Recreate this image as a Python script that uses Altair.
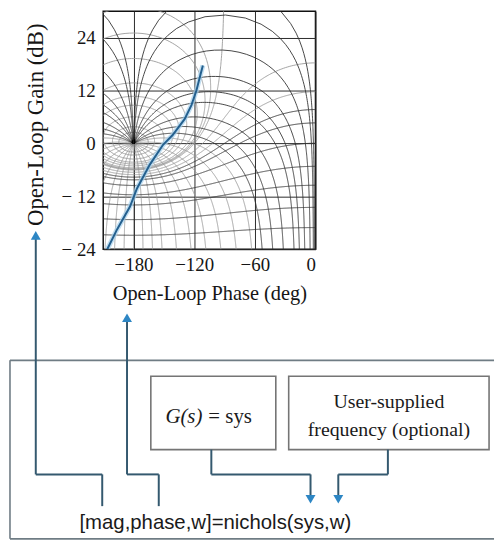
import numpy as np
import pandas as pd
import altair as alt

# ---------------- values ----------------
# open-loop response (Nichols locus)
curve_phase = [-206.0, -196.3, -183.5, -176.6, -163.9, -150.8, -141.3, -129.5, -122.7, -117.8, -113.8, -111.4]
curve_gain = [-24.0, -19.5, -14.3, -10.2, -4.8, -0.3, 1.9, 5.5, 8.7, 12.0, 15.6, 17.7]

# Nichols grid levels (closed-loop magnitude in dB, closed-loop phase in deg)
closed_loop_gain_db = [12, 9, 6, 4, 3, 2, 1, 0.5, 0.25, 0, -1, -2, -3, -4, -6, -9, -12, -16, -20]
closed_loop_phase_deg = [-1, -2, -5, -10, -15, -20, -30, -40, -50, -60, -75, -90, -105, -120,
                         -135, -150, -160, -170, -180, -190, -200, -210, -225, -240, -255,
                         -270, -285, -300, -310, -320, -330, -340, -345, -350, -355, -358, -359]

# rectangular grid / tick values
phase_grid = [-180, -150, -120, -90, -60, -30, 0]
gain_grid = [-24, -18, -12, -6, 0, 6, 12, 18, 24]

x_title = "Open-Loop Phase (deg)"
y_title = "Open-Loop Gain (dB)"
label_g = "G(s)"
label_sys = "= sys"
label_freq = ["User-supplied", "frequency (optional)"]
command = "[mag,phase,w]=nichols(sys,w)"

SERIF = "Liberation Serif"
SANS = "Liberation Sans"

# ---------------- Nichols grid contours ----------------
def to_nichols(L):
    ph = np.degrees(np.angle(L))
    ph = np.where(ph > 0, ph - 360.0, ph)
    with np.errstate(divide="ignore"):
        g = 20 * np.log10(np.abs(L))
    return ph, g

rows = []
seg_counter = [0]

def add_path(ph, g, kind):
    cur = []
    prev = None
    def flush():
        if len(cur) > 1:
            seg_counter[0] += 1
            for i, (p, v) in enumerate(cur):
                rows.append({"phase": round(p, 2), "gain": round(v, 2), "seg": seg_counter[0], "i": i, "kind": kind})
        cur.clear()
    for p, v in zip(ph, g):
        ok = np.isfinite(p) and np.isfinite(v) and (-235 < p < 15) and (-35 < v < 40)
        if not ok:
            flush()
            prev = None
            continue
        if prev is not None and abs(p - prev) > 90:
            flush()
        cur.append((float(p), float(v)))
        prev = p
    flush()

theta = np.linspace(-np.pi, np.pi, 1441)
for mdb in closed_loop_gain_db:
    M = 10 ** (mdb / 20.0)
    T = M * np.exp(1j * theta)
    with np.errstate(divide="ignore", invalid="ignore"):
        L = T / (1 - T)
    ph, g = to_nichols(L)
    add_path(ph, g, "dark" if mdb <= -3 else "light")

mag = np.logspace(-2.5, 3, 1000)
for pdeg in closed_loop_phase_deg:
    T = mag * np.exp(1j * np.radians(pdeg))
    with np.errstate(divide="ignore", invalid="ignore"):
        L = T / (1 - T)
    ph, g = to_nichols(L)
    add_path(ph, g, "dark" if (pdeg >= -50 or pdeg <= -310) else "light")

grid_df = pd.DataFrame(rows)
curve_df = pd.DataFrame({"phase": curve_phase, "gain": curve_gain, "i": range(len(curve_phase))})

# ---------------- top: Nichols chart ----------------
xs = alt.Scale(domain=[-210, 0], nice=False, zero=False)
ys = alt.Scale(domain=[-24, 30], nice=False, zero=False)

minus_x = "datum.value % 60 == 0 ? (datum.value < 0 ? '\u2212' + abs(datum.value) + '\u2002' : '' + datum.value) : ''"
minus_y = "datum.value % 12 == 0 ? (datum.value < 0 ? '\u2212 ' + abs(datum.value) : '' + datum.value) : ''"

x_axis = alt.Axis(values=phase_grid, grid=True, gridColor="#2a2a2a", gridWidth=1,
                  ticks=False, domain=False, labelExpr=minus_x, labelOverlap=False,
                  labelFont=SERIF, labelFontSize=19, labelColor="#151515", labelPadding=6,
                  title=x_title, titleFont=SERIF, titleFontSize=20.5, titleFontWeight="normal",
                  titleColor="#151515", titlePadding=10)
y_axis = alt.Axis(values=gain_grid, grid=True, gridColor="#2a2a2a", gridWidth=1,
                  ticks=False, domain=False, labelExpr=minus_y, labelOverlap=False,
                  labelFont=SERIF, labelFontSize=19, labelColor="#151515", labelPadding=8,
                  title=y_title, titleFont=SERIF, titleFontSize=23, titleFontWeight="normal",
                  titleColor="#151515", titlePadding=14, titleY=114)

base = alt.Chart(grid_df)
light_lines = base.transform_filter(alt.datum.kind == "light").mark_line(
    color="#9a9a9a", strokeWidth=0.9, clip=True).encode(
    x=alt.X("phase:Q", scale=xs, axis=x_axis),
    y=alt.Y("gain:Q", scale=ys, axis=y_axis),
    detail="seg:N", order="i:Q")
dark_lines = base.transform_filter(alt.datum.kind == "dark").mark_line(
    color="#333333", strokeWidth=0.9, clip=True).encode(
    x=alt.X("phase:Q", scale=xs), y=alt.Y("gain:Q", scale=ys),
    detail="seg:N", order="i:Q")
halo = alt.Chart(curve_df).mark_line(color="#a8d2ec", strokeWidth=5, opacity=0.7, clip=True).encode(
    x=alt.X("phase:Q", scale=xs), y=alt.Y("gain:Q", scale=ys), order="i:Q")
locus = alt.Chart(curve_df).mark_line(color="#24608f", strokeWidth=2, clip=True).encode(
    x=alt.X("phase:Q", scale=xs), y=alt.Y("gain:Q", scale=ys), order="i:Q")

top = alt.layer(light_lines, dark_lines, halo, locus).properties(
    width=214, height=240,
    view=alt.ViewBackground(stroke="#111111", strokeWidth=1.5))

# ---------------- bottom: function diagram (layout in figure pixels) ----------------
bxs = alt.Scale(domain=[101, 315], nice=False, zero=False)
bys = alt.Scale(domain=[248, 548], nice=False, zero=False, reverse=True)

# outer frame (runs off the right edge, so only three sides are drawn)
frame = pd.DataFrame([
    {"x": 7, "y": 360, "x2": 495, "y2": 360},
    {"x": 7, "y": 360, "x2": 7, "y2": 540},
    {"x": 7, "y": 540, "x2": 495, "y2": 540},
])
boxes = pd.DataFrame([
    {"x": 149, "x2": 275, "y": 376, "y2": 450},
    {"x": 288, "x2": 490, "y": 376, "y2": 450},
])
wires = pd.DataFrame([
    {"x": 100, "y": 507, "x2": 100, "y2": 475},
    {"x": 100, "y": 475, "x2": 33, "y2": 475},
    {"x": 33, "y": 475, "x2": 33, "y2": 236},
    {"x": 157, "y": 507, "x2": 157, "y2": 475},
    {"x": 157, "y": 475, "x2": 125, "y2": 475},
    {"x": 125, "y": 475, "x2": 125, "y2": 318},
    {"x": 210, "y": 450, "x2": 210, "y2": 475},
    {"x": 210, "y": 475, "x2": 310, "y2": 475},
    {"x": 310, "y": 475, "x2": 310, "y2": 497},
    {"x": 388, "y": 450, "x2": 388, "y2": 475},
    {"x": 388, "y": 475, "x2": 338, "y2": 475},
    {"x": 338, "y": 475, "x2": 338, "y2": 497},
])
heads = pd.DataFrame([
    {"x": 33, "y": 234, "s": "triangle-up"},
    {"x": 125, "y": 317, "s": "triangle-up"},
    {"x": 310, "y": 500, "s": "triangle-down"},
    {"x": 338, "y": 500, "s": "triangle-down"},
])

def bx(f="x"):
    return alt.X(f + ":Q", scale=bxs, axis=None)

def by(f="y"):
    return alt.Y(f + ":Q", scale=bys, axis=None)

frame_layer = alt.Chart(frame).mark_rule(color="#6f7c84", strokeWidth=1.6).encode(
    x=bx(), x2="x2:Q", y=by(), y2="y2:Q")
box_layer = alt.Chart(boxes).mark_rect(filled=False, strokeWidth=1.6, color="#757575").encode(
    x=bx(), x2="x2:Q", y=by(), y2="y2:Q")
wire_layer = alt.Chart(wires).mark_rule(color="#34596f", strokeWidth=2).encode(
    x=bx(), x2="x2:Q", y=by(), y2="y2:Q")
head_layer = alt.Chart(heads).mark_point(filled=True, size=100, color="#2d86c4", opacity=1).encode(
    x=bx(), y=by(), shape=alt.Shape("s:N", scale=None))

g_text = alt.Chart(pd.DataFrame([{"x": 201, "y": 417, "t": label_g}])).mark_text(
    font=SERIF, fontSize=21, fontStyle="italic", align="right", baseline="middle", color="#1a1a1a").encode(
    x=bx(), y=by(), text="t:N")
sys_text = alt.Chart(pd.DataFrame([{"x": 207, "y": 417, "t": label_sys}])).mark_text(
    font=SERIF, fontSize=21, align="left", baseline="middle", color="#1a1a1a").encode(
    x=bx(), y=by(), text="t:N")
freq_text = alt.Chart(pd.DataFrame([{"x": 389, "y": 402, "t": label_freq[0]},
                                    {"x": 389, "y": 430, "t": label_freq[1]}])).mark_text(
    font=SERIF, fontSize=20, align="center", baseline="middle", color="#1a1a1a").encode(
    x=bx(), y=by(), text="t:N")
cmd_text = alt.Chart(pd.DataFrame([{"x": 214, "y": 524, "t": command}])).mark_text(
    font=SANS, fontSize=20.5, align="center", baseline="middle", color="#1a1a1a").encode(
    x=bx(), y=by(), text="t:N")

bottom = alt.layer(frame_layer, box_layer, wire_layer, head_layer, g_text, sys_text, freq_text, cmd_text).properties(
    width=214, height=300,
    view=alt.ViewBackground(stroke="transparent"))

chart = alt.vconcat(top, bottom, spacing=0, bounds="flush").resolve_scale(
    x="independent", y="independent").properties(
    padding={"left": 0, "top": 0, "right": 0, "bottom": 0}).configure(background="white")

chart.save("out.html", embed_options={"renderer": "svg", "actions": False})
